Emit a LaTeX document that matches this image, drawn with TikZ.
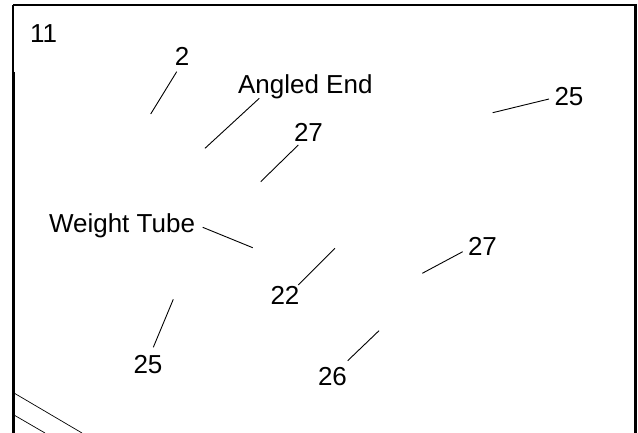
\documentclass[tikz,border=0pt]{standalone}
\usepackage{fontspec}
\setmainfont{Liberation Sans}
\begin{document}
\begin{tikzpicture}[x=1pt,y=-1pt,
  lbl/.style={font=\fontsize{26}{30}\selectfont,inner sep=0pt,anchor=base},
  leader/.style={line width=0.9pt},
  frame/.style={line width=2pt},
  thin/.style={line width=0.7pt}]
\useasboundingbox (0,0) rectangle (638,433);
% frame
\draw[frame] (13,5) -- (636.5,5);
\draw[frame] (13,5) -- (13,72);
\draw[line width=3pt] (13.5,72) -- (13.5,433);
\draw[line width=3pt] (635.5,4) -- (635.5,433);
\draw[thin] (14,393) -- (82,433);
\draw[thin] (14,415) -- (45,433);
% labels
\node[lbl] (n11) at (43.5,43) {11};
\node[lbl] (n2) at (182,66) {2};
\node[lbl] (nae) at (305.3,93.3) {Angled End};
\node[lbl] (n27a) at (308.5,142) {27};
\node[lbl] (n25a) at (569,106) {25};
\node[lbl] (nwt) at (122,232.5) {Weight Tube};
\node[lbl] (n22) at (285,305) {22};
\node[lbl] (n27b) at (482.5,256) {27};
\node[lbl] (n26) at (332.5,385) {26};
\node[lbl] (n25b) at (148,373) {25};
% leader ends
\coordinate (s2) at (176.7,71.7);   \coordinate (e2) at (150.7,114);
\coordinate (sae) at (259.3,98.3);  \coordinate (eae) at (205,148.3);
\coordinate (s27a) at (298.3,145);  \coordinate (e27a) at (260.7,181.7);
\coordinate (s25a) at (549,99);     \coordinate (e25a) at (492.7,112.7);
\coordinate (swt) at (202.7,227.3); \coordinate (ewt) at (252.7,247.7);
\coordinate (s22) at (298.3,285);   \coordinate (e22) at (335,248.3);
\coordinate (s27b) at (462.7,251.7);\coordinate (e27b) at (422.3,273.3);
\coordinate (s26) at (347.7,360.7); \coordinate (e26) at (379,330.7);
\coordinate (s25b) at (153.3,347.3);\coordinate (e25b) at (173.3,299.3);
\draw[leader] (s2) -- (e2);
\draw[leader] (sae) -- (eae);
\draw[leader] (s27a) -- (e27a);
\draw[leader] (s25a) -- (e25a);
\draw[leader] (swt) -- (ewt);
\draw[leader] (s22) -- (e22);
\draw[leader] (s27b) -- (e27b);
\draw[leader] (s26) -- (e26);
\draw[leader] (s25b) -- (e25b);
\end{tikzpicture}
\end{document}
